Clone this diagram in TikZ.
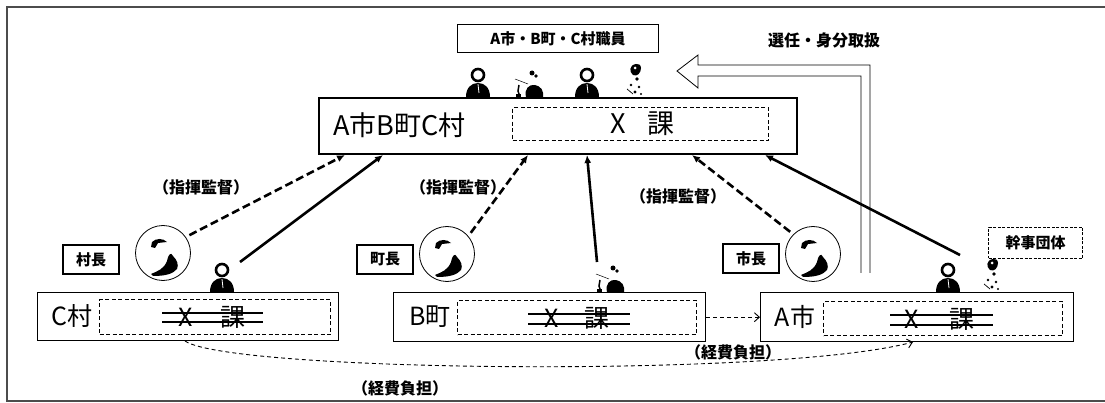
\documentclass[tikz,border=0pt]{standalone}
\usepackage{fontspec}
\setmainfont{Noto Sans CJK JP}
\usetikzlibrary{arrows.meta}
\newcommand\jpsize[1]{\fontsize{#1}{#1}\selectfont}
\begin{document}
\begin{tikzpicture}[x=1pt,y=-1pt,
  outerbox/.style={draw, line width=1.4pt, inner sep=0pt, anchor=north west},
  xbox/.style={draw, dashed, dash pattern=on 4pt off 2.5pt, line width=1.1pt, inner sep=0pt, anchor=north west},
  bigtext/.style={font=\jpsize{27}, inner sep=0pt},
  midtext/.style={font=\jpsize{25}, inner sep=0pt},
  smalllabel/.style={font=\bfseries\jpsize{16}, inner sep=0pt},
  chiefbox/.style={draw, line width=2pt, font=\bfseries\jpsize{15}, minimum width=56, minimum height=29, inner sep=0pt},
  portrait/.style={draw, circle, line width=0.8pt, minimum size=55, inner sep=0pt},
  strike/.style={line width=1.3pt},
  dashconn/.style={line width=2.6pt, dash pattern=on 8pt off 4pt, -{Latex[length=8pt,width=7pt]}},
  solidconn/.style={line width=2.6pt, -{Latex[length=8pt,width=7pt]}},
  costconn/.style={line width=0.9pt, dash pattern=on 4pt off 3pt, -{Straight Barb[length=5pt,width=9pt]}},
  staff/.pic={
    \fill (-12,0) .. controls (-12,-9) and (-7,-14) .. (0,-14) .. controls (7,-14) and (12,-9) .. (12,0) -- cycle;
    \draw[line width=2.6pt, fill=white] (0,-22) circle[radius=6];
    \draw[white, line width=0.8pt] (0,-13) -- (1,-4);
  },
  deskfig/.pic={
    \fill (-1,0) .. controls (-3,-8) and (2,-13) .. (8,-12) .. controls (14,-11) and (17,-6) .. (16,0) -- cycle;
    \fill (5,-24) circle[radius=2.5];
    \fill (9,-21) circle[radius=1.8];
    \draw[line width=0.5pt] (-12,-18) -- (1,-13);
    \draw[line width=1.5pt] (-8,-12) -- (-9,-6) -- (-7,0);
    \fill (-11,0) rectangle (-6,-3);
  },
  smallfig/.pic={
    \fill (0,-33) .. controls (-7,-32) and (-7,-25) .. (-3,-22) .. controls (1,-20) and (5,-24) .. (5,-29) .. controls (5,-32) and (2,-34) .. (0,-33) -- cycle;
    \fill[white] (-1,-29) circle[radius=1.5];
    \fill (1,-18) circle[radius=1.8];
    \fill (-5,-12) circle[radius=1.4];
    \fill (3,-10) circle[radius=1.4];
    \fill (-1,-5) circle[radius=1.7];
    \fill (5,-3) circle[radius=1.2];
    \draw[line width=0.7pt] (-9,-8) -- (-3,-3);
  },
  face/.pic={
    \fill (-12,-6) -- (-11,-11) .. controls (-7,-15) and (0,-15) .. (4,-11) -- (-5,-10) -- (-8,-5) -- cycle;
    \fill (-12,21) .. controls (-5,18) and (1,16) .. (4,8) .. controls (5,2) and (8,-2) .. (10,3)
      .. controls (14,7) and (16,12) .. (14,16) .. controls (10,21) and (2,23) .. (-10,23) -- cycle;
  }]
\useasboundingbox (0,0) rectangle (1105,403);

% outer frame
\draw[line width=1.6pt, black!70] (1105,7) -- (7,7) -- (7,401) -- (1105,401);

% joint office box
\node[draw, line width=2.4pt, minimum width=478, minimum height=56, inner sep=0pt, anchor=north west] (main) at (318,97) {};
\node[bigtext, anchor=west] (maintitle) at (333,125) {A市B町C村};
\node[xbox, minimum width=256, minimum height=33] (mainx) at (512,107) {};
\node[bigtext] (mainX) at (618,124) {X};
\node[bigtext] (mainka) at (661,124) {課};

% staff label
\node[draw, line width=1.1pt, minimum width=201, minimum height=28, inner sep=0pt, anchor=north west, font=\bfseries\jpsize{15}] (staffnote) at (457,24) {A市・B町・C村職員};

% staff figures on the joint office
\pic at (478,97) {staff};
\pic at (527,97) {deskfig};
\pic at (587,97) {staff};
\pic at (636,97) {smallfig};

% appointment arrow
\draw[line width=0.8pt, fill=white] (870,273) -- (870,65) -- (698,65) -- (698,55) -- (677,71) -- (698,88) -- (698,76) -- (861,76) -- (861,273);
\node[font=\bfseries\jpsize{16}, inner sep=0pt] (appoint) at (824,40) {選任・身分取扱};

% member offices
\node[outerbox, minimum width=301, minimum height=48] (cbox) at (37,292) {};
\node[xbox, minimum width=231, minimum height=35] (cx) at (99,299) {};
\node[midtext] (cname) at (72,316) {C村};
\node[midtext] (cX) at (186,317) {X};
\node[midtext] (cka) at (233,317) {課};
\draw[strike] (162,313) -- (263,313);
\draw[strike] (162,322) -- (263,322);

\node[outerbox, minimum width=312, minimum height=49] (bbox) at (393,292) {};
\node[xbox, minimum width=239, minimum height=34] (bx) at (457,300) {};
\node[midtext] (bname) at (430,317) {B町};
\node[midtext] (bX) at (552,318) {X};
\node[midtext] (bka) at (597,318) {課};
\draw[strike] (528,314) -- (630,314);
\draw[strike] (528,324) -- (630,324);

\node[outerbox, minimum width=313, minimum height=49] (abox) at (760,292) {};
\node[xbox, minimum width=239, minimum height=34] (ax) at (823,301) {};
\node[midtext] (aname) at (795,317) {A市};
\node[midtext] (aX) at (912,319) {X};
\node[midtext] (aka) at (962,319) {課};
\draw[strike] (890,315) -- (993,315);
\draw[strike] (890,325) -- (993,325);

% heads of the member bodies
\node[chiefbox] (vchief) at (91,259.5) {村長};
\node[chiefbox] (tchief) at (385,259.5) {町長};
\node[chiefbox] (schief) at (751,259) {市長};
\node[portrait] (vc) at (163,253) {};
\node[portrait] (tc) at (447,254) {};
\node[portrait] (sc) at (813,254) {};
\pic at (163,253) {face};
\pic at (447,254) {face};
\pic at (813,254) {face};

% managing body
\node[draw, dashed, dash pattern=on 3pt off 1.5pt, line width=1pt, minimum width=94, minimum height=31, inner sep=0pt, anchor=north west, font=\bfseries\jpsize{15}] (kanji) at (988,227) {幹事団体};

% staff of the member offices
\pic at (222,292) {staff};
\pic at (608,292) {deskfig};
\pic at (948,292) {staff};
\pic at (993,292) {smallfig};

% connector ends
\coordinate (t1) at (345,155);
\coordinate (t2) at (383,155);
\coordinate (t3) at (528,155);
\coordinate (t4) at (587,155);
\coordinate (t5) at (692,155);
\coordinate (t6) at (765,155);
\coordinate (cs) at (240,262);
\coordinate (bs) at (597,262);
\coordinate (as) at (960,255);

% direction and supervision
\draw[dashconn, shorten <=4pt] (vc.35) -- (t1);
\draw[dashconn, shorten <=4pt] (tc.40) -- (t3);
\draw[dashconn, shorten <=4pt] (sc.135) -- (t5);
\node[smalllabel] (lab1) at (201,187) {（指揮監督）};
\node[smalllabel] (lab2) at (458,187) {（指揮監督）};
\node[smalllabel] (lab3) at (678,196) {（指揮監督）};

% staff dispatched to the joint office
\draw[solidconn] (cs) -- (t2);
\draw[solidconn] (bs) -- (t4);
\draw[solidconn] (as) -- (t6);

% cost sharing
\draw[costconn] (bbox.east) -- (abox.west);
\coordinate (cstart) at (185,341);
\coordinate (aend) at (913,342);
\draw[costconn] (cstart) .. controls (230,372) and (780,378) .. (aend);
\node[smalllabel] (cost1) at (733,352) {（経費負担）};
\node[smalllabel] (cost2) at (400,388) {（経費負担）};
\end{tikzpicture}
\end{document}
